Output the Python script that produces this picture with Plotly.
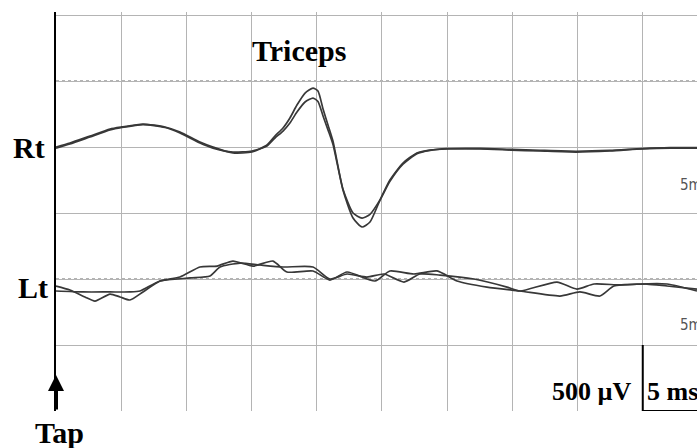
import plotly.graph_objects as go

# ---- Data (time in ms after tap, amplitude in µV) ----
rt_a_t = [0.00, 1.07, 2.61, 4.14, 5.06, 6.67, 8.36, 9.51, 11.04, 12.04, 13.57, 15.03, 16.18, 16.79, 17.41,
          17.94, 18.48, 19.10, 19.71, 20.09, 20.48, 20.86, 21.24, 22.01, 22.78, 23.47, 24.08, 24.85,
          25.61, 26.61, 27.68, 28.68, 29.98, 32.52, 34.89, 37.12, 39.88, 42.48, 44.94, 47.09, 49.16]
rt_a_v = [0, 30, 83, 136, 152, 174, 152, 114, 38, 0, -45, -38, 15, 83, 144,
          220, 318, 409, 447, 424, 288, 167, 45, -326, -538, -606, -568, -402,
          -250, -121, -45, -23, -15, -15, -23, -30, -38, -30, -15, -8, -8]

rt_b_t = [0.00, 1.07, 2.61, 4.14, 5.06, 6.67, 8.36, 9.51, 11.04, 12.04, 13.57, 15.03, 16.18, 16.79, 17.41,
          17.94, 18.48, 19.10, 19.71, 20.09, 20.48, 20.86, 21.24, 22.01, 22.78, 23.47, 24.08, 24.85,
          25.61, 26.61, 27.68, 28.68, 29.98, 32.52, 34.89, 37.12, 39.88, 42.48, 44.94, 47.09, 49.16]
rt_b_v = [-8, 23, 76, 129, 148, 170, 148, 106, 30, -8, -38, -30, 8, 68, 121,
          182, 265, 341, 371, 345, 235, 130, 20, -320, -500, -538, -510, -400,
          -260, -130, -50, -25, -12, -10, -18, -25, -32, -26, -12, -5, -5]

lt_a_t = [0.00, 1.07, 2.22, 2.99, 4.14, 4.91, 5.67, 6.67, 7.98, 9.51, 11.04, 12.35, 13.57, 15.11, 16.64,
          17.71, 19.71, 21.01, 22.32, 24.46, 25.61, 27.45, 29.22, 30.75, 33.05, 35.58, 38.65, 40.18,
          41.72, 42.79, 44.79, 46.86, 49.16]
lt_a_v = [-53, -83, -136, -167, -114, -136, -159, -98, -15, 15, 91, 98, 136, 98, 136,
          53, 61, -8, 53, -15, 61, 38, 61, -15, -61, -91, -129, -98,
          -129, -53, -38, -38, -91]

lt_b_t = [0.00, 2.07, 4.14, 5.67, 6.44, 7.98, 10.28, 11.81, 12.58, 14.11, 15.64, 17.41, 19.71, 21.01,
          22.32, 23.85, 25.15, 26.69, 27.91, 29.45, 32.06, 34.59, 35.58, 38.42, 39.95, 41.26, 43.25,
          45.32, 46.86, 49.16]
lt_b_v = [-91, -98, -98, -98, -91, -15, 8, 23, 91, 121, 106, 91, 91, 0,
          38, 15, 38, -23, 38, 30, 0, -61, -91, -23, -76, -38, -45,
          -38, -53, -76]

channel_labels = ["Rt", "Lt"]
channel_offsets = [2000, 1000]   # µV display offsets (4 and 2 divisions)
dotted_levels = [2500, 1000]
title_text = "Triceps"
scale_v_label = "500 µV"
scale_t_label = "5 ms"
tap_label = "Tap"
sweep_label = "5ms"

TRACE_COLOR = "#383838"
GRID = "#b4b4b4"
SERIF = "Liberation Serif, Times New Roman, serif"

fig = go.Figure()

def add_trace(t, v, offset):
    fig.add_trace(go.Scatter(
        x=t, y=[val + offset for val in v], mode="lines",
        line=dict(color=TRACE_COLOR, width=1.7, shape="spline", smoothing=0.6),
        showlegend=False, hoverinfo="skip"))

add_trace(rt_a_t, rt_a_v, channel_offsets[0])
add_trace(rt_b_t, rt_b_v, channel_offsets[0])
add_trace(lt_a_t, lt_a_v, channel_offsets[1])
add_trace(lt_b_t, lt_b_v, channel_offsets[1])

# scale bar (5 ms x 500 µV)
fig.add_trace(go.Scatter(
    x=[45, 45, 50], y=[500, 0, 0], mode="lines",
    line=dict(color="black", width=2), showlegend=False, hoverinfo="skip", cliponaxis=False))

shapes = []
for lv in dotted_levels:
    shapes.append(dict(type="line", xref="paper", x0=0, x1=1, yref="y", y0=lv, y1=lv,
                       line=dict(color="#9a9a9a", width=1.5, dash="dot"), layer="below"))

fig.update_layout(
    width=697, height=448,
    margin=dict(l=56, r=0, t=12, b=37),
    paper_bgcolor="white", plot_bgcolor="white",
    xaxis=dict(range=[0, 49.16], dtick=5, tick0=0, showgrid=True, gridcolor=GRID, gridwidth=1,
               showticklabels=False, ticks="", zeroline=False, showline=False),
    yaxis=dict(range=[0, 3023], dtick=500, tick0=0, showgrid=True, gridcolor=GRID, gridwidth=1,
               showticklabels=False, ticks="", zeroline=False, showline=True,
               linecolor="black", linewidth=1.5),
    font=dict(family=SERIF, color="black"),
    shapes=shapes,
    hovermode=False,
)

def label(text, x, y, size, xref="paper", yref="y", xanchor="center", **kw):
    return dict(text=text, x=x, xref=xref, y=y, yref=yref, xanchor=xanchor, yanchor="middle",
                showarrow=False, font=dict(size=size, family=kw.get("family", SERIF),
                                           color=kw.get("color", "black")))

ann = [
    label(f"<b>{title_text}</b>", 0.379, 2735, 30),
    label(f"<b>{channel_labels[0]}</b>", -0.042, channel_offsets[0], 30),
    label(f"<b>{channel_labels[1]}</b>", -0.036, 939, 30),
    label(f"<b>{scale_v_label}</b>", 0.9, 144, 26, xanchor="right"),
    label(f"<b>{scale_t_label}</b>", 0.919, 144, 26, xanchor="left"),
    label(f"<b>{tap_label}</b>", 0.006, -0.053, 30, yref="paper"),
]
for yv in [1712, 652]:
    ann.append(label(sweep_label, 0.970, yv, 15, xanchor="left",
                     family="DejaVu Sans Condensed, Roboto Condensed, Arial Narrow, sans-serif",
                     color="#555555"))
# tap arrow
ann.append(dict(text="", x=0, xref="x", y=273, yref="y", ax=0, ay=36, axref="pixel", ayref="pixel",
                showarrow=True, arrowhead=2, arrowsize=0.8, arrowwidth=4, arrowcolor="black", standoff=0))
fig.update_layout(annotations=ann)

fig.write_html("out.html", config={"displayModeBar": False},
               post_script="document.body.style.margin='0';document.body.style.overflow='hidden';")
